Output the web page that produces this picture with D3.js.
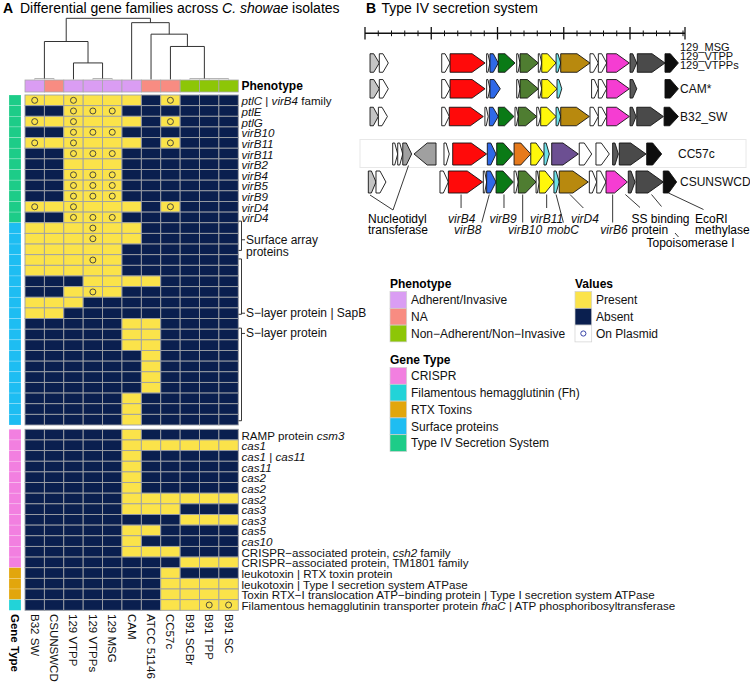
<!DOCTYPE html>
<html><head><meta charset="utf-8">
<script src="https://cdn.jsdelivr.net/npm/d3@7"></script>
<style>body{margin:0;background:#fff}svg{display:block;font-family:"Liberation Sans",Arial,sans-serif}</style>
</head><body><svg id="c" width="750" height="684"></svg>
<script>
// ---------------- DATA ----------------
const columns = ["B32 SW","CSUNSWCD","129 VTPP","129 VTPPs","129 MSG","CAM","ATCC 51146","CC57c","B91 SCBr","B91 TPP","B91 SC"];
const phenotypes = ["Adherent/Invasive","NA","Adherent/Invasive","Adherent/Invasive","Adherent/Invasive","Adherent/Invasive","NA","NA","Non−Adherent/Non−Invasive","Non−Adherent/Non−Invasive","Non−Adherent/Non−Invasive"];
// hclust-style merges: [child1, child2, height]; negative = leaf column index
const dendroMerges = [[-1,-2,0],[-4,-5,0],[-10,-11,0],[-9,3,0],[-3,2,1.57],[-8,4,3.23],[1,5,3.73],[-7,6,4.47],[-6,8,5.63],[7,9,6.07]];
const geneLabels = ["*ptlC* | *virB4* family","*ptlE*","*ptlG*","*virB10*","*virB11*","*virB11*","*virB2*","*virB4*","*virB5*","*virB9*","*virD4*","*virD4*",
  "","","","","","","","","","","","","","","","","","","",
  "RAMP protein *csm3*","*cas1*","*cas1* | *cas11*","*cas11*","*cas2*","*cas2*","*cas2*","*cas3*","*cas3*","*cas5*","*cas10*",
  "CRISPR−associated protein, *csh2* family","CRISPR−associated protein, TM1801 family",
  "leukotoxin | RTX toxin protein","leukotoxin | Type I secretion system ATPase",
  "Toxin RTX−I translocation ATP−binding protein | Type I secretion system ATPase",
  "Filamentous hemagglutinin transporter protein *fhaC* | ATP phosphoribosyltransferase"];
const geneTypeRuns = [["Type IV Secretion System",12],["Surface proteins",19],["CRISPR",13],["RTX Toxins",3],["Filamentous hemagglutinin (Fh)",1]];
// 1 = present, 0 = absent, P = present on plasmid
const geneValues = ["P1P1110P000","00PPP000000","P1P1110P000","00PPP000000","P1P1110P000","00PPP000000","00111000000","00PPP000000","00PPP000000","00PPP000000","P1P1110P000","00PPP000000",
  "111P1100000","111P1100000","11111000000","111P1000000","11111000000","00011110000","001P1000000","11100000000","11000000000",
  "00000110000","00000110000","00000110000","00000010000","00000010000","00000010000","00000010000","00000100000","00000100000","00000100000",
  "00000100000","00000111111","00000100000","00000100000","00000100000","00000100000","00000111111","00000111000","00000000111","00000110000","00000100000","00000111000","00000000111",
  "00000001000","00000001111","00000001111","000000011PP"];
// bracket annotations: [label lines, start row, end row, tick row] (row units, fractional)
const brackets = [[["Surface array","proteins"],11.85,14.6,13.6],[["S−layer protein | SapB"],15.4,20.6,20.5],[["S−layer protein"],21.9,30.6,22.4]];

// Panel B: genes [start kb, end kb, type, strand]
const genes129 = [[0.38,1.08,"nt",1],[1.08,1.76,"un",1],[5.79,6.42,"un",1],[6.42,9.06,"virB4",1],[9.18,9.43,"un",1],[9.43,10.06,"virB8",1],[10.06,11.32,"virB9",1],[11.45,11.70,"un",1],[11.70,13.08,"virB10",1],[13.08,13.34,"un",1],[13.34,14.42,"virB11",1],[14.42,14.77,"mobC",1],[14.77,16.98,"virD4",1],[16.98,17.61,"un",1],[17.61,18.24,"un",1],[18.24,19.95,"virB6",1],[20.0,20.51,"ssb",1],[20.55,22.64,"topo",1],[22.64,23.65,"ecori",1]];
const genesCAM = [[0.38,1.08,"nt",1],[1.08,1.76,"un",1],[5.79,6.42,"un",1],[6.42,9.06,"virB4",1],[9.18,9.43,"un",1],[9.43,10.21,"virB8",1],[11.45,11.70,"un",1],[11.70,13.08,"virB10",1],[13.08,13.34,"un",1],[13.34,14.49,"virB11",1],[14.49,14.85,"mobC",1],[17.1,17.61,"un",1],[17.61,18.24,"un",1],[18.24,19.95,"virB6",1],[20.0,20.51,"ssb",1],[22.64,23.65,"ecori",1]];
const genesB32 = [[0.38,1.01,"nt",1],[1.01,1.69,"un",1],[5.79,6.36,"un",1],[6.36,8.93,"virB4",1],[9.05,9.30,"un",1],[9.38,10.06,"virB8",1],[10.06,11.24,"virB9",1],[11.32,11.57,"un",1],[11.57,12.96,"virB10",1],[12.96,13.26,"un",1],[13.26,14.42,"virB11",1],[14.42,14.77,"mobC",1],[14.77,16.93,"virD4",1],[16.98,17.61,"un",1],[17.61,18.24,"un",1],[18.24,19.95,"virB6",1],[20.0,20.46,"ssb",1],[20.51,22.52,"topo",1],[22.57,23.65,"ecori",1]];
const genesCC57c = [[2.09,2.47,"un",1],[2.47,2.85,"un",1],[2.85,3.52,"nt2",1],[3.70,5.36,"nt2",-1],[5.96,6.36,"un",1],[6.62,9.18,"virB4",1],[9.23,9.89,"virB8",1],[9.94,11.19,"virB9",1],[11.25,12.51,"orange",1],[12.51,13.51,"virB11",1],[13.51,13.91,"mobC",1],[14.09,16.10,"purple",1],[16.17,17.11,"un",1],[17.43,18.44,"un",1],[18.69,19.12,"ssb",1],[19.19,21.21,"topo",1],[21.26,22.39,"ecori",1]];
const genesCSUNSWCD = [[0.25,0.83,"nt",1],[0.83,1.58,"un",1],[5.66,6.29,"un",1],[6.29,8.88,"virB4",1],[8.93,9.18,"un",1],[9.18,9.89,"virB8",1],[9.89,11.19,"virB9",1],[11.25,11.57,"un",1],[11.57,12.91,"virB10",1],[12.91,13.15,"un",1],[13.15,14.26,"virB11",1],[14.26,14.66,"mobC",1],[14.66,16.85,"virD4",1],[16.93,17.49,"un",1],[17.49,18.19,"un",1],[18.19,19.80,"virB6",1],[19.87,20.38,"ssb",1],[20.45,22.51,"topo",1],[22.51,23.52,"ecori",1]];
const trackNames = [["129_MSG","129_VTPP","129_VTPPs"],["CAM*"],["B32_SW"],["CC57c"],["CSUNSWCD"]];
const rulerMax = 24.15;
// gene annotations: [text lines, arrow kb, line-end kb, text anchor kb, text row, italic]
const geneNotes = [[["virB4"],7.25,7.25,7.3,1,true],[["virB8"],9.38,8.81,7.75,2,true],[["virB9"],10.49,10.49,10.42,1,true],[["virB10"],11.9,11.9,12.08,2,true],
  [["virB11"],13.71,13.71,13.71,1,true],[["mobC"],14.42,14.97,14.94,2,true],[["virD4"],15.47,16.48,16.6,1,true],[["virB6"],18.69,18.69,18.79,2,true]];

// ---------------- STYLES ----------------
const phenoColor = {"Adherent/Invasive":"#DA9DF3","NA":"#F88C82","Non−Adherent/Non−Invasive":"#8DC607"};
const typeColor = {"CRISPR":"#F27FE0","Filamentous hemagglutinin (Fh)":"#22D3D8","RTX Toxins":"#E2A60C","Surface proteins":"#1EBDF2","Type IV Secretion System":"#1DCC88"};
const valColor = {"1":"#FBE34A","P":"#FBE34A","0":"#0A1F4F"};
const geneColor = {nt:"#C4C4C4",nt2:"#A0A0A0",un:"#FFFFFF",virB4:"#FF0A0A",virB8:"#2F69E8",virB9:"#0A7A16",virB10:"#4F7D31",virB11:"#FFF70A",mobC:"#6FE3EA",virD4:"#B8890E",virB6:"#F53DD2",ssb:"#595959",topo:"#4A4A4A",ecori:"#0E0E0E",orange:"#E67A1C",purple:"#6C4F92"};

const svg = d3.select("#c");
function rich(sel, str){ str.split("*").forEach((s,i)=>{ if(s) sel.append("tspan").attr("font-style", i%2 ? "italic":"normal").text(s); }); }

// ---------------- PANEL A ----------------
svg.append("text").attr("x",3).attr("y",13).attr("font-size",14).attr("font-weight","bold").text("A");
const tA = svg.append("text").attr("x",20).attr("y",13).attr("font-size",14);
rich(tA, "Differential gene families across *C. showae* isolates");

const xA = d3.scaleBand().domain(columns).range([25,238.3]);
const bw = xA.bandwidth();
const yTop = d3.scaleBand().domain(d3.range(31)).range([95,425]);
const yBot = d3.scaleBand().domain(d3.range(31,48)).range([429.3,610.3]);
const rowY = i => i<31 ? yTop(i) : yBot(i);
const rh = yTop.bandwidth();

// dendrogram
const yH = d3.scaleLinear().domain([0,6.07]).range([78.5,18.3]);
const leafY = 79.5;
const nX=[], nY=[];
dendroMerges.forEach((m,i)=>{
  const pos = c => c<0 ? [xA(columns[-c-1])+bw/2, leafY] : [nX[c-1], nY[c-1]];
  const [x1,y1]=pos(m[0]), [x2,y2]=pos(m[1]);
  const y = yH(m[2]);
  nX[i]=(x1+x2)/2; nY[i]=y;
  svg.append("path").attr("d",`M${x1},${y1}V${y}H${x2}V${y2}`).attr("fill","none")
    .attr("stroke", m[2]===0 ? "#B5B5B5" : "#333").attr("stroke-width",1);
});

// phenotype bar
columns.forEach((c,j)=>{
  svg.append("rect").attr("x",xA(c)).attr("y",80).attr("width",bw).attr("height",12)
    .attr("fill",phenoColor[phenotypes[j]]).attr("stroke","#A8A8A8").attr("stroke-width",0.8);
});
svg.append("text").attr("x",241.5).attr("y",86).attr("dominant-baseline","central").attr("font-size",12).attr("font-weight","bold").text("Phenotype");

// gene types per row
const geneTypes = [];
geneTypeRuns.forEach(([t,n])=>{ for(let k=0;k<n;k++) geneTypes.push(t); });

// heatmap cells
geneValues.forEach((row,i)=>{
  const y = rowY(i);
  svg.append("rect").attr("x",9).attr("y",y).attr("width",12).attr("height",rh)
    .attr("fill",typeColor[geneTypes[i]]).attr("stroke","#ffffff").attr("stroke-opacity",0.35).attr("stroke-width",0.6);
  row.split("").forEach((v,j)=>{
    const x = xA(columns[j]);
    svg.append("rect").attr("x",x).attr("y",y).attr("width",bw).attr("height",rh)
      .attr("fill",valColor[v]).attr("stroke","#9DA0A6").attr("stroke-width",0.9);
    if(v==="P") svg.append("circle").attr("cx",x+bw/2).attr("cy",y+rh/2).attr("r",3)
      .attr("fill","none").attr("stroke","#3b3b3b").attr("stroke-width",0.9);
  });
  if(geneLabels[i]){
    const t = svg.append("text").attr("x",241.5).attr("y",y+rh/2).attr("dominant-baseline","central").attr("font-size",11.6).attr("fill","#111");
    rich(t, geneLabels[i]);
  }
});

// brackets
const yr = r => 95 + r*rh;
brackets.forEach(([lines,s,e,tk])=>{
  const x0=241.5;
  svg.append("path").attr("d",`M${x0-3},${yr(s)}H${x0}V${yr(e)}H${x0-3}M${x0},${yr(tk)}H${x0+3.5}`)
    .attr("fill","none").attr("stroke","#222").attr("stroke-width",0.9);
  lines.forEach((l,k)=>{
    svg.append("text").attr("x",x0+4.5).attr("y",yr(tk)+k*12).attr("dominant-baseline","central").attr("font-size",12).attr("fill","#111").text(l);
  });
});

// column labels
columns.forEach(c=>{
  svg.append("text").attr("transform",`translate(${xA(c)+bw/2},614) rotate(90)`).attr("dominant-baseline","central")
    .attr("font-size",11.5).attr("fill","#111").text(c);
});
svg.append("text").attr("transform","translate(15,614) rotate(90)").attr("dominant-baseline","central")
  .attr("font-size",11.5).attr("font-weight","bold").text("Gene Type");

// ---------------- PANEL B ----------------
svg.append("text").attr("x",366).attr("y",13).attr("font-size",14).attr("font-weight","bold").text("B");
svg.append("text").attr("x",381.5).attr("y",13).attr("font-size",14).text("Type IV secretion system");

const xB = d3.scaleLinear().domain([0,rulerMax]).range([365,685]);
// ruler
svg.append("line").attr("x1",xB(0)).attr("x2",xB(rulerMax)).attr("y1",33.3).attr("y2",33.3).attr("stroke","#111").attr("stroke-width",1.4);
d3.range(0,Math.floor(rulerMax)+1).forEach(k=>{
  const major = k%5===0;
  svg.append("line").attr("x1",xB(k)).attr("x2",xB(k)).attr("y1",major?27:30.5).attr("y2",major?39.5:36.2).attr("stroke","#111").attr("stroke-width",major?1.3:1);
});
svg.append("line").attr("x1",xB(rulerMax)).attr("x2",xB(rulerMax)).attr("y1",27).attr("y2",39.5).attr("stroke","#111").attr("stroke-width",1.3);

// CC57c faint box
svg.append("rect").attr("x",360).attr("y",139.5).attr("width",386).attr("height",28).attr("fill","#fff").attr("stroke","#E8E8E8").attr("stroke-width",1);

const trackGenes = [genes129, genesCAM, genesB32, genesCC57c, genesCSUNSWCD];
const trackY = [63, 88.8, 116.5, 154, 182];
const trackH = [18.5, 18.5, 18.5, 22, 22];
trackGenes.forEach((gs,ti)=>{
  const cy = trackY[ti], h = trackH[ti];
  gs.forEach(([s,e,type,strand])=>{
    const a = xB(s), b = xB(e), len = b-a;
    const head = Math.min(len*0.6, h*0.7);
    let pts;
    if(strand>0) pts = [[a,cy-h/2],[b-head,cy-h/2],[b,cy],[b-head,cy+h/2],[a,cy+h/2]];
    else pts = [[b,cy-h/2],[a+head,cy-h/2],[a,cy],[a+head,cy+h/2],[b,cy+h/2]];
    svg.append("polygon").attr("points",pts.map(p=>p.join(",")).join(" "))
      .attr("fill",geneColor[type]).attr("stroke","#111").attr("stroke-width",0.9).attr("stroke-linejoin","miter");
  });
});
// track names
const nameX = [680,680,680,678,680];
trackNames.forEach((ns,ti)=>{
  ns.forEach((n,k)=>{
    const y = ns.length>1 ? 46.5 + k*9 : trackY[ti];
    svg.append("text").attr("x",nameX[ti]).attr("y",y).attr("dominant-baseline","central").attr("font-size",ns.length>1?11:12).attr("fill","#111").text(n);
  });
});

// gene annotations
const rowTextY = {1:216.5, 2:228.3};
const lineEndY = {1:208, 2:222.5};
geneNotes.forEach(([lines,g,le,tx,r,it])=>{
  svg.append("line").attr("x1",xB(g)).attr("y1",194.5).attr("x2",xB(le)).attr("y2",lineEndY[r]).attr("stroke","#222").attr("stroke-width",0.9);
  svg.append("text").attr("x",xB(tx)).attr("y",rowTextY[r]+2).attr("dominant-baseline","central").attr("text-anchor","middle")
    .attr("font-size",12).attr("font-style",it?"italic":"normal").attr("fill","#111").text(lines[0]);
});
const ln = (x1,y1,x2,y2)=>svg.append("line").attr("x1",x1).attr("y1",y1).attr("x2",x2).attr("y2",y2).attr("stroke","#222").attr("stroke-width",0.9);
// Nucleotidyl transferase
ln(370,195,393,210); ln(393,210,408.5,165.5);
svg.append("text").attr("x",368).attr("y",219).attr("dominant-baseline","central").attr("font-size",12).text("Nucleotidyl");
svg.append("text").attr("x",368).attr("y",230).attr("dominant-baseline","central").attr("font-size",12).text("transferase");
// SS binding protein
ln(xB(19.65),194.5,640,207.5);
svg.append("text").attr("x",631.5).attr("y",218.5).attr("dominant-baseline","central").attr("font-size",12).text("SS binding");
svg.append("text").attr("x",631.5).attr("y",230).attr("dominant-baseline","central").attr("font-size",12).text("protein");
// Topoisomerase I
ln(651.5,194.5,661.5,206.5); ln(675,233,678.5,237);
svg.append("text").attr("x",646.5).attr("y",243).attr("dominant-baseline","central").attr("font-size",12).text("Topoisomerase I");
// EcoRI methylase
ln(668.5,193,703.5,209.5);
svg.append("text").attr("x",695).attr("y",218.5).attr("dominant-baseline","central").attr("font-size",12).text("EcoRI");
svg.append("text").attr("x",695).attr("y",230).attr("dominant-baseline","central").attr("font-size",12).text("methylase");

// ---------------- LEGENDS ----------------
function legend(title, x, y, items){
  svg.append("text").attr("x",x).attr("y",y).attr("dominant-baseline","central").attr("font-size",12).attr("font-weight","bold").text(title);
  items.forEach(([lab,fill,circ],k)=>{
    const sy = y+7.5+k*16.8;
    svg.append("rect").attr("x",x).attr("y",sy).attr("width",16.7).attr("height",16.8).attr("fill",fill).attr("stroke","#D0D0D0").attr("stroke-width",0.7);
    if(circ) svg.append("circle").attr("cx",x+8.35).attr("cy",sy+8.4).attr("r",2.6).attr("fill","none").attr("stroke","#3844A8").attr("stroke-width",1);
    svg.append("text").attr("x",x+21).attr("y",sy+8.6).attr("dominant-baseline","central").attr("font-size",12).attr("fill","#111").text(lab);
  });
}
legend("Phenotype",390,284,Object.keys(phenoColor).map(k=>[k,phenoColor[k]]));
legend("Values",575,284,[["Present",valColor["1"]],["Absent",valColor["0"]],["On Plasmid","#ffffff",true]]);
legend("Gene Type",390,360,Object.keys(typeColor).map(k=>[k,typeColor[k]]));
</script></body></html>
